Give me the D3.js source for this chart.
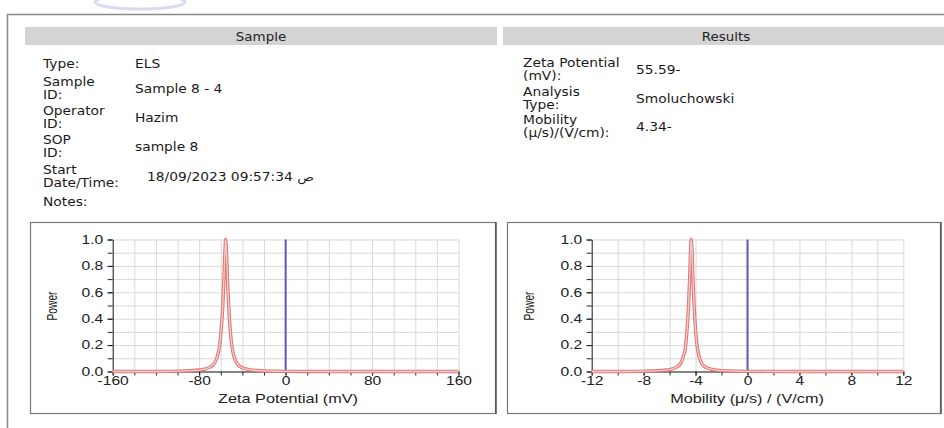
<!DOCTYPE html>
<html>
<head>
<meta charset="UTF-8">
<title>Zeta Potential Report</title>
<script src="https://d3js.org/d3.v7.min.js"></script>
<style>
  body { margin: 0; background: #fff; }
  svg { display: block; }
  .info { font-family: "DejaVu Sans", Verdana, sans-serif; font-size: 11.8px; fill: #1a1a1a; }
  .hdr { font-family: "DejaVu Sans", Verdana, sans-serif; font-size: 12px; fill: #222; }
  .axis text { font-family: "Liberation Sans", Arial, sans-serif; font-size: 12px; fill: #222; }
  .axis path, .axis line { stroke: #222; }
  .grid line { stroke: #d9d9d9; }
  .grid path { display: none; }
  .title { font-family: "Liberation Sans", Arial, sans-serif; font-size: 12.5px; fill: #222; }
</style>
</head>
<body>
<script>
// info table
const sampleLabels = [["Type:"], ["Sample", "ID:"], ["Operator", "ID:"], ["SOP", "ID:"], ["Start", "Date/Time:"], ["Notes:"]];
const sampleValues = ["ELS", "Sample 8 - 4", "Hazim", "sample 8", "18/09/2023 09:57:34 ص", ""];
const resultLabels = [["Zeta Potential", "(mV):"], ["Analysis", "Type:"], ["Mobility", "(μ/s)/(V/cm):"]];
const resultValues = ["55.59-", "Smoluchowski", "4.34-"];

// spectrum
const zetaX = [-160, -120, -100, -90, -80, -75, -70, -67, -65, -63, -61, -60, -59, -58, -57, -56, -55.6, -55, -54, -53, -52, -51, -50, -48, -46, -44, -40, -35, -30, -20, -10, 0, 40, 160];
const zetaPower = [0, 0, 0.003, 0.006, 0.011, 0.018, 0.033, 0.05, 0.075, 0.12, 0.2, 0.28, 0.38, 0.52, 0.72, 0.93, 1.0, 0.95, 0.75, 0.55, 0.4, 0.29, 0.21, 0.12, 0.075, 0.05, 0.028, 0.016, 0.01, 0.004, 0.002, 0.001, 0, 0];
const mobX = [-12, -9.4, -7.8, -7.0, -6.25, -5.85, -5.47, -5.23, -5.08, -4.92, -4.76, -4.69, -4.61, -4.53, -4.45, -4.38, -4.34, -4.29, -4.22, -4.14, -4.06, -3.98, -3.9, -3.75, -3.59, -3.44, -3.12, -2.73, -2.34, -1.56, -0.78, 0, 3.1, 12];
const mobPower = [0, 0, 0.003, 0.006, 0.011, 0.018, 0.033, 0.05, 0.075, 0.12, 0.2, 0.28, 0.38, 0.52, 0.72, 0.93, 1.0, 0.95, 0.75, 0.55, 0.4, 0.29, 0.21, 0.12, 0.075, 0.05, 0.028, 0.016, 0.01, 0.004, 0.002, 0.001, 0, 0];

const zetaTicks = [-160, -80, 0, 80, 160];
const mobTicks = [-12, -8, -4, 0, 4, 8, 12];
const powerTicks = [0, 0.2, 0.4, 0.6, 0.8, 1.0];

const W = 944, H = 428;
const SX = 1.17;   // the report is a bit wide, text looks stretched
const SXA = 1.3;
const svg = d3.select("body").append("svg").attr("width", W).attr("height", H);

function stext(x, y, str, cls, sx, anchor) {
  return svg.append("text").attr("class", cls)
    .attr("transform", `translate(${x},${y}) scale(${sx},1)`)
    .attr("text-anchor", anchor || "start").attr("direction", "ltr").text(str);
}

// faint logo remnant at top
svg.append("ellipse").attr("cx", 140).attr("cy", 2).attr("rx", 45).attr("ry", 7)
  .attr("fill", "none").attr("stroke", "#d8dcf2").attr("stroke-width", 3);

// page frame
svg.append("path").attr("d", "M7.5,428 V14.5 H944").attr("fill", "none").attr("stroke", "#8a8a8a").attr("stroke-width", 1.5);

// header bars
const bars = [{x: 25, w: 472, cx: 261, t: "Sample"}, {x: 503, w: 441, cx: 726, t: "Results"}];
bars.forEach(b => {
  svg.append("rect").attr("x", b.x).attr("y", 27).attr("width", b.w).attr("height", 18).attr("fill", "#d4d4d4");
  stext(b.cx, 40.5, b.t, "hdr", 1.12, "middle");
});

// sample info rows
const sampleRowY = [68, 93, 122, 151, 181, 206];
sampleLabels.forEach((lab, i) => {
  const y = sampleRowY[i];
  if (lab.length === 1) stext(43, y, lab[0], "info", SX);
  else {
    stext(43, y - 7, lab[0], "info", SX);
    stext(43, y + 6, lab[1], "info", SX);
  }
  if (sampleValues[i]) stext(i === 4 ? 147 : 135, y, "\u200E" + sampleValues[i], "info", SX);
});

const resultRowY = [74, 103, 131];
resultLabels.forEach((lab, i) => {
  const y = resultRowY[i];
  stext(523, y - 7, lab[0], "info", SX);
  stext(523, y + 6, lab[1], "info", SX);
  stext(636, y, resultValues[i], "info", SX);
});

function drawPanel(opt) {
  const g = svg.append("g");
  g.append("rect").attr("x", opt.box[0] + 0.5).attr("y", opt.box[1] + 0.5)
    .attr("width", opt.box[2]).attr("height", opt.box[3])
    .attr("fill", "#fff").attr("stroke", "#7a7a7a").attr("stroke-width", 1.2);
  // darker right edge
  g.append("line").attr("x1", opt.box[0] + opt.box[2] + 1).attr("x2", opt.box[0] + opt.box[2] + 1)
    .attr("y1", opt.box[1]).attr("y2", opt.box[1] + opt.box[3] + 1).attr("stroke", "#555").attr("stroke-width", 1.5);

  const x = d3.scaleLinear().domain(opt.domain).range([opt.x0, opt.x1]);
  const y = d3.scaleLinear().domain([0, 1]).range([371.5, 239.5]);

  g.append("g").attr("class", "grid").attr("transform", "translate(0,239.5)")
    .call(d3.axisTop(x).tickValues(d3.range(opt.domain[0], opt.domain[1] + 1e-9, opt.gridStep)).tickSize(-132).tickFormat(""));
  g.append("g").attr("class", "grid").attr("transform", `translate(${opt.x1},0)`)
    .call(d3.axisLeft(y).tickValues(d3.range(0, 1.0001, 0.1)).tickSize(opt.x1 - opt.x0).tickFormat(""));

  // minor ticks
  g.append("g").attr("class", "axis").attr("transform", "translate(0,371.5)")
    .call(d3.axisBottom(x).tickValues(d3.range(opt.domain[0], opt.domain[1] + 1e-9, opt.gridStep)).tickSize(4).tickFormat(""))
    .call(s => s.select(".domain").remove());
  g.append("g").attr("class", "axis").attr("transform", `translate(${opt.x0},0)`)
    .call(d3.axisLeft(y).tickValues(d3.range(0, 1.0001, 0.1)).tickSize(5).tickFormat(""))
    .call(s => s.select(".domain").remove());

  // labelled axes
  g.append("g").attr("class", "axis").attr("transform", "translate(0,371.5)")
    .call(d3.axisBottom(x).tickValues(opt.ticks).tickSize(4).tickSizeOuter(0).tickPadding(1).tickFormat(d => d3.format("d")(d).replace("−", "-")))
    .call(s => s.selectAll(".tick text").attr("transform", `scale(${SXA},1)`));
  g.append("g").attr("class", "axis").attr("transform", `translate(${opt.x0},0)`)
    .call(d3.axisLeft(y).tickValues(powerTicks).tickSize(5).tickSizeOuter(0).tickFormat(d3.format(".1f")))
    .call(s => s.selectAll(".tick text").attr("x", -9.5 / SXA).attr("transform", `scale(${SXA},1)`));

  // zero line
  g.append("line").attr("x1", x(0)).attr("x2", x(0)).attr("y1", y(0)).attr("y2", y(1))
    .attr("stroke", "#5c5cb8").attr("stroke-width", 2);

  const line = d3.line().x((d, i) => x(opt.xs[i])).y(d => y(d)).curve(d3.curveMonotoneX);
  g.append("path").attr("d", line(opt.ys)).attr("fill", "none").attr("stroke", "#de7878").attr("stroke-width", 3.4);
  g.append("path").attr("d", line(opt.ys)).attr("fill", "none").attr("stroke", "#f5cccc").attr("stroke-width", 1.3);

  g.append("text").attr("class", "title")
    .attr("transform", `translate(${opt.titleX},403) scale(${SXA},1)`)
    .attr("text-anchor", "middle").text(opt.xLabel);
  g.append("text").attr("class", "title").attr("transform", `translate(${opt.box[0] + 27},306) rotate(-90) scale(0.82,1.15)`)
    .attr("text-anchor", "middle").text("Power");
}

drawPanel({box: [30, 222, 465, 191], domain: [-160, 160], x0: 112.7, x1: 458.5, gridStep: 20, titleX: 288,
  ticks: zetaTicks, xs: zetaX, ys: zetaPower, xLabel: "Zeta Potential (mV)"});
drawPanel({box: [507, 222, 433, 191], domain: [-12, 12], x0: 591.7, x1: 903.3, gridStep: 2, titleX: 747,
  ticks: mobTicks, xs: mobX, ys: mobPower, xLabel: "Mobility (μ/s) / (V/cm)"});
</script>
</body>
</html>
